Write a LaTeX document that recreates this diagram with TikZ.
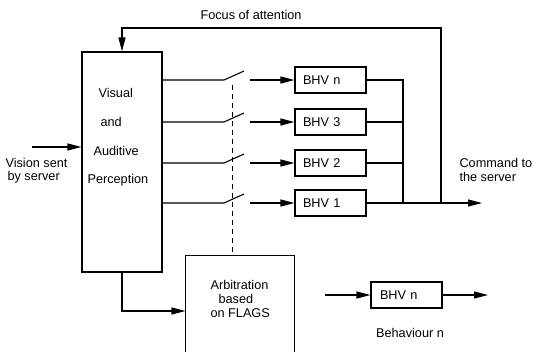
\documentclass[tikz,border=0pt]{standalone}
\usepackage{fontspec}
\setmainfont{Liberation Sans}
\usetikzlibrary{arrows.meta,calc}
\begin{document}
\begin{tikzpicture}[x=1pt,y=-1pt,line width=1.1pt,
  every node/.style={font=\fontsize{12.7}{14}\selectfont},
  arr/.style={-{Triangle[length=14pt,width=7pt]}},
  box/.style={draw,rectangle,inner sep=0pt},
  bhv/.style={draw,rectangle,minimum width=71pt,minimum height=26pt,inner sep=0pt,text width=55pt,align=left},
  lbl/.style={anchor=west,inner sep=0pt}]
\useasboundingbox (0,0) rectangle (534,351);
% perception box
\node[box,minimum width=80pt,minimum height=220pt] (p) at (122,162) {};
\node[lbl] (t1) at (98,93) {Visual};
\node[lbl] (t2) at (100,122) {and};
\node[lbl] (t3) at (93,151) {Auditive};
\node[lbl] (t4) at (87,180) {Perception};
% behaviour boxes
\node[bhv] (b4) at (330.5,80) {BHV n};
\node[bhv] (b3) at (330.5,122) {BHV 3};
\node[bhv] (b2) at (330.5,163) {BHV 2};
\node[bhv] (b1) at (330.5,203) {BHV 1};
% arbitration box (open at the bottom, cut by the page edge)
\node[rectangle,inner sep=0pt,minimum width=108pt,minimum height=96pt] (arb) at (240,304) {};
\draw (arb.south west) -- (arb.north west) -- (arb.north east) -- (arb.south east);
\node[lbl] (a1) at (210,285) {Arbitration};
\node[lbl] (a2) at (218,299) {based};
\node[lbl] (a3) at (210,313) {on FLAGS};
% legend
\node[bhv,minimum width=71pt,text width=53pt] (leg) at (406.5,295) {BHV n};
\node (legt) at (410,333) {Behaviour n};
\coordinate (legin) at (325,295);
\coordinate (legout) at (488,295);
\draw[arr] (legin) -- (leg.west);
\draw[arr] (leg.east) -- (legout);
% texts
\node[lbl] (focus) at (200,15) {Focus of attention};
\node[lbl] (vis1) at (5,163) {Vision sent};
\node[lbl] (vis2) at (7,177) {by server};
\node[lbl] (cmd1) at (459,163) {Command to};
\node[lbl] (cmd2) at (459,177) {the server};
% input
\coordinate (vin) at (32,147);
\draw[arr] (vin) -- (p.west |- vin);
% switches
\foreach \y/\b in {80/b4,122/b3,163/b2,203/b1}{
  \draw (p.east |- 0,\y) -- (224,\y) -- (244,\y-9);
  \draw[arr] (250,\y) -- (\b.west);
}
% dashed control line
\coordinate (dtop) at (232,85);
\draw[line width=1pt,dash pattern=on 5pt off 4pt] (dtop) -- (dtop |- arb.north);
% outputs
\coordinate (j) at (403,203);
\coordinate (f) at (441,203);
\draw (b4.east) -- (b4.east -| j) -- (j);
\draw (b3.east) -- (b3.east -| j);
\draw (b2.east) -- (b2.east -| j);
\coordinate (cout) at (482,203);
\draw[arr] (b1.east) -- (cout);
% focus of attention loop
\draw[arr] (f) -- (441,28) -- (p.north |- 0,28) -- (p.north);
% perception to arbitration
\draw[arr] (p.south) |- (arb.west |- 0,311);
\end{tikzpicture}
\end{document}
